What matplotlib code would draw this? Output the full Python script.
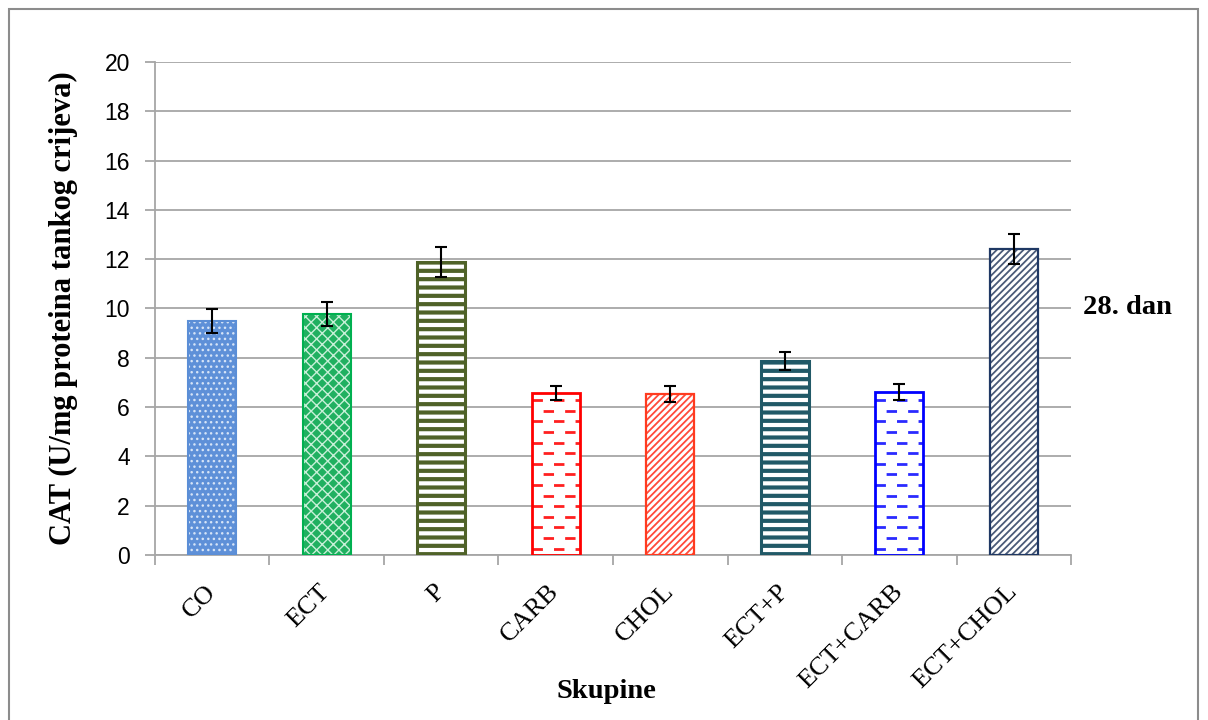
import numpy as np
import matplotlib
matplotlib.use("Agg")
import matplotlib.pyplot as plt
from matplotlib.patches import Rectangle

groups = ["CO", "ECT", "P", "CARB", "CHOL", "ECT+P", "ECT+CARB", "ECT+CHOL"]
cat_means = [9.49, 9.78, 11.89, 6.57, 6.53, 7.87, 6.61, 12.41]
cat_errs = [0.47, 0.49, 0.60, 0.30, 0.32, 0.37, 0.32, 0.60]

plt.rcParams["lines.scale_dashes"] = False
serif = "Liberation Serif"
sans = "Liberation Sans"

fig = plt.figure(figsize=(12.08, 7.2), dpi=100)
ax = fig.add_axes([0.1283, 0.2292, 0.7583, 0.6847])

# outer chart frame
fig.patches.append(Rectangle((9 / 1208, -0.01), 1189 / 1208, 1.0 - 9 / 720 + 0.01,
                             transform=fig.transFigure, fill=False,
                             edgecolor="#8c8c8c", linewidth=1.5, zorder=0))

ax.set_axisbelow(True)
ax.yaxis.grid(True, color="#a6a6a6", linewidth=1.3)

x = np.arange(len(groups))
w = 0.42

# style per bar: face, edge, hatch, hatch colour, hatch linewidth, edge width
styles = [
    dict(face="#5e90d8", edge="#5b8ed6", hatch="...", hcol="#d6e4f7", hlw=1.0, elw=1.5),
    dict(face="#20b060", edge="#00b050", hatch="xxx", hcol="#c8f0d8", hlw=1.0, elw=1.5),
    dict(face="white", edge="#4f6228", hatch="--", hcol="#4f6228", hlw=3.0, elw=2.2),
    dict(face="white", edge="#ff0000", hatch=None, hcol="#ff2020", hlw=0, elw=2.0),
    dict(face="white", edge="#ff3b1f", hatch="/////", hcol="#ff4a3a", hlw=1.3, elw=1.6),
    dict(face="white", edge="#215967", hatch="--", hcol="#215967", hlw=3.0, elw=2.2),
    dict(face="white", edge="#0000ff", hatch=None, hcol="#2a2aff", hlw=0, elw=2.0),
    dict(face="white", edge="#1f3864", hatch="/////", hcol="#4a5a78", hlw=1.3, elw=1.6),
]

for i, (xi, v, st) in enumerate(zip(x, cat_means, styles)):
    with plt.rc_context({"hatch.linewidth": max(st["hlw"], 0.5)}):
        inner = ax.bar(xi, v, width=w, color=st["face"], edgecolor=st["hcol"],
                       hatch=st["hatch"], linewidth=0, zorder=2)[0]
    if hasattr(inner, "set_hatch_linewidth") and st["hlw"]:
        inner.set_hatch_linewidth(st["hlw"])
    ax.bar(xi, v, width=w, color="none", edgecolor=st["edge"], linewidth=st["elw"],
           zorder=3)
    if st["hatch"] is None:
        # staggered short dashes
        spacing = 0.43
        for k, yy in enumerate(np.arange(spacing * 0.6, v, spacing)):
            off = 0 if k % 2 == 0 else 7.5
            ln, = ax.plot([xi - w / 2, xi + w / 2], [yy, yy], color=st["hcol"],
                          linewidth=2.0, solid_capstyle="butt", dash_capstyle="butt",
                          linestyle=(off, (7.5, 8.0)), zorder=2.5)
            ln.set_clip_path(inner)

ax.errorbar(x, cat_means, yerr=cat_errs, fmt="none", ecolor="black",
            elinewidth=1.5, capsize=4.5, capthick=1.5, zorder=4)

ax.set_ylim(0, 20)
ax.set_yticks(np.arange(0, 21, 2))
ax.set_xlim(-0.5, len(groups) - 0.5)
ax.set_xticks(np.arange(-0.5, len(groups)), minor=False)
ax.set_xticklabels([])
ax.set_xticks(x, minor=True)
ax.set_xticklabels(groups, minor=True, rotation=45, ha="right", va="center",
                   rotation_mode="anchor", fontsize=19, family=serif)
ax.tick_params(axis="x", which="minor", length=0, pad=24)
ax.tick_params(axis="x", which="major", length=7, color="#a6a6a6", width=1.3)
ax.tick_params(axis="y", length=7, color="#a6a6a6", width=1.3, labelsize=16.5, pad=11)
for lab in ax.get_yticklabels():
    lab.set_family(sans)

for s in ["top", "right"]:
    ax.spines[s].set_visible(False)
for s in ["left", "bottom"]:
    ax.spines[s].set_color("#a6a6a6")
    ax.spines[s].set_linewidth(1.3)

ax.set_ylabel("CAT (U/mg proteina tankog crijeva)", fontsize=22, fontweight="bold",
              family=serif, labelpad=19)
fig.text(606 / 1208, 1 - 692 / 720, "Skupine", fontsize=20.5, fontweight="bold",
         family=serif, ha="center", va="center")
fig.text(1083 / 1208, 1 - 308 / 720, "28. dan", fontsize=20.5, fontweight="bold",
         family=serif, ha="left", va="center")

fig.savefig("out.png", dpi=100)
